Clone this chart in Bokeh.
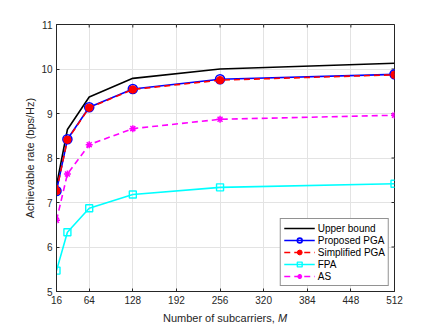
import math
from bokeh.plotting import figure
from bokeh.models import Range1d, FixedTicker, Div
from bokeh.layouts import column
from bokeh.embed import file_html
from bokeh.resources import INLINE

M = [16, 32, 64, 128, 256, 512]
upper = [7.38, 8.64, 9.37, 9.79, 10.00, 10.13]
pga = [7.26, 8.42, 9.14, 9.55, 9.77, 9.88]
spga = [7.26, 8.41, 9.13, 9.54, 9.75, 9.87]
fpa = [5.47, 6.33, 6.87, 7.18, 7.34, 7.42]
as_rate = [6.60, 7.64, 8.30, 8.66, 8.87, 8.96]
x_ticks = [16, 64, 128, 192, 256, 320, 384, 448, 512]
y_ticks = [5, 6, 7, 8, 9, 10, 11]
x_label = "Number of subcarriers,"
x_label_var = "M"

FONT = "Liberation Sans"
AX = "#262626"

p = figure(frame_width=338, frame_height=267, x_range=Range1d(16, 512), y_range=Range1d(5, 11),
           output_backend="svg", toolbar_location=None,
           min_border_left=56, min_border_top=24, min_border_right=30, min_border_bottom=20)
p.background_fill_color = "white"
p.outline_line_color = AX

p.xaxis.ticker = FixedTicker(ticks=x_ticks)
p.yaxis.ticker = FixedTicker(ticks=y_ticks)
for ax in [p.xaxis[0], p.yaxis[0]]:
    ax.axis_line_color = AX
    ax.major_tick_line_color = AX
    ax.major_tick_in = 3
    ax.major_tick_out = 0
    ax.minor_tick_line_color = None
    ax.major_label_text_font = FONT
    ax.major_label_text_font_size = "10px"
    ax.major_label_text_color = AX
    ax.major_label_standoff = 4
p.yaxis.axis_label = "Achievable rate (bps/Hz)"
p.yaxis.axis_label_text_font = FONT
p.yaxis.axis_label_text_font_size = "11px"
p.yaxis.axis_label_text_font_style = "normal"
p.yaxis.axis_label_text_color = AX
p.yaxis.axis_label_standoff = 2

p.xgrid.ticker = FixedTicker(ticks=x_ticks)
p.ygrid.ticker = FixedTicker(ticks=y_ticks)
p.grid.grid_line_color = "#e3e3e3"
p.grid.grid_line_width = 1

# box ticks on the right and top edges (half of each dash is clipped by the frame)
p.scatter([p.x_range.end] * len(y_ticks), y_ticks, marker="dash", size=6, line_color=AX, line_width=1)
p.scatter(x_ticks, [p.y_range.end] * len(x_ticks), marker="dash", angle=math.pi / 2, size=6,
          line_color=AX, line_width=1)

p.line(M, upper, color="black", line_width=1.6, legend_label="Upper bound")
p.line(M, pga, color="blue", line_width=1.6, legend_label="Proposed PGA")
p.scatter(M, pga, marker="circle", size=9, line_color="blue", line_width=1.6,
          fill_color=None, legend_label="Proposed PGA")
p.line(M, spga, color="red", line_width=1.6, line_dash="6 4", legend_label="Simplified PGA")
p.scatter(M, spga, marker="circle", size=7.5, line_color="red", fill_color="red",
          legend_label="Simplified PGA")
p.line(M, fpa, color="cyan", line_width=1.6, legend_label="FPA")
p.scatter(M, fpa, marker="square", size=7, line_color="cyan", line_width=1.4,
          fill_color=None, legend_label="FPA")
p.line(M, as_rate, color="magenta", line_width=1.6, line_dash="6 4", legend_label="AS")
p.scatter(M, as_rate, marker="asterisk", size=7, line_color="magenta", line_width=1.5,
          legend_label="AS")

lg = p.legend[0]
lg.location = "bottom_right"
lg.margin = 5
lg.padding = 3
lg.spacing = 0
lg.border_line_color = AX
lg.border_line_width = 1
lg.label_text_font = FONT
lg.label_text_font_size = "10px"
lg.label_text_color = "black"
lg.glyph_width = 31
lg.glyph_height = 12
lg.label_height = 12
lg.label_standoff = 3
lg.background_fill_alpha = 1

xlab = Div(text=f"{x_label} <i>{x_label_var}</i>", width=338, height=14, margin=(0, 0, 0, 56),
           styles={"font-family": FONT, "font-size": "11px", "color": AX,
                   "text-align": "center", "line-height": "14px", "width": "338px"})

layout = column(p, xlab, spacing=0)
open("out.html", "w").write(file_html(layout, INLINE))
